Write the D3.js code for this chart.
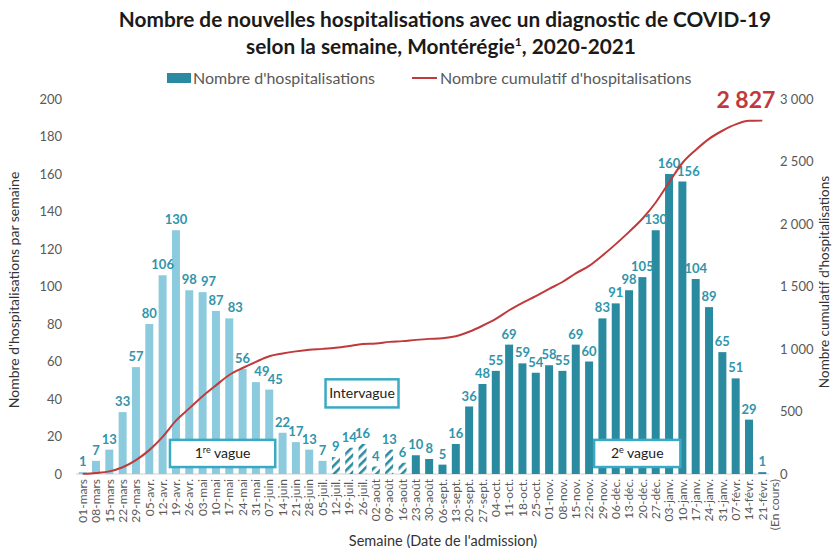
<!DOCTYPE html>
<html>
<head>
<meta charset="utf-8">
<script src="https://cdn.jsdelivr.net/npm/d3@7"></script>
<style>
  body { margin: 0; background: #fff; }
  svg { display: block; font-family: Lato, "Open Sans", sans-serif; }
</style>
</head>
<body>
<svg id="chart"></svg>
<script>
// semaines (date d'admission)
const categories = ["01-mars", "08-mars", "15-mars", "22-mars", "29-mars", "05-avr.", "12-avr.", "19-avr.",
  "26-avr.", "03-mai", "10-mai", "17-mai", "24-mai", "31-mai", "07-juin", "14-juin", "21-juin", "28-juin",
  "05-juil.", "12-juil.", "19-juil.", "26-juil.", "02-août", "09-août", "16-août", "23-août", "30-août",
  "06-sept.", "13-sept.", "20-sept.", "27-sept.", "04-oct.", "11-oct.", "18-oct.", "25-oct.", "01-nov.",
  "08-nov.", "15-nov.", "22-nov.", "29-nov.", "06-déc.", "13-déc.", "20-déc.", "27-déc.", "03-janv.",
  "10-janv.", "17-janv.", "24-janv.", "31-janv.", "07-févr.", "14-févr.", "21-févr."];

const weekly = [1, 7, 13, 33, 57, 80, 106, 130, 98, 97, 87, 83, 56, 49, 45, 22, 17, 13, 7,
  9, 14, 16, 4, 13, 6,
  10, 8, 5, 16, 36, 48, 55, 69, 59, 54, 58, 55, 69, 60, 83, 91, 98, 105, 130, 160, 156, 104, 89, 65, 51, 29, 1];

const cumulative = [1, 8, 21, 54, 111, 191, 297, 427, 525, 622, 709, 792, 848, 897, 942, 964, 981, 994, 1001,
  1010, 1024, 1040, 1044, 1057, 1063,
  1073, 1081, 1086, 1102, 1138, 1186, 1241, 1310, 1369, 1423, 1481, 1536, 1605, 1665, 1748, 1839, 1937, 2042,
  2172, 2332, 2488, 2592, 2681, 2746, 2797, 2826, 2827];

// 1 = 1re vague, i = intervague, 2 = 2e vague
const period = "1111111111111111111iiiiii222222222222222222222222222".split("");

const leftTicks = [0, 20, 40, 60, 80, 100, 120, 140, 160, 180, 200];
const rightTicks = [0, 500, 1000, 1500, 2000, 2500, 3000];

const width = 835, height = 548;
const plotLeft = 76, plotRight = 769, plotTop = 99, plotBottom = 474;

const light = "#8ccbdd", dark = "#2a8ba0", labelCol = "#2f95ab", red = "#c0393b", grey = "#595959";

const svg = d3.select("#chart").attr("width", width).attr("height", height);

const fr = d3.formatLocale({ decimal: ",", thousands: "\u00a0", grouping: [3], currency: ["", " $"] });
const fmt = fr.format(",d");

// scales
const x = d3.scaleBand().domain(categories).range([plotLeft, plotRight]).paddingInner(0.4).paddingOuter(0.2);
const y = d3.scaleLinear().domain([0, 200]).range([plotBottom, plotTop]);
const y2 = d3.scaleLinear().domain([0, 3000]).range([plotBottom, plotTop]);

// hatch pattern for intervague
const defs = svg.append("defs");
defs.append("pattern")
  .attr("id", "hatch")
  .attr("patternUnits", "userSpaceOnUse")
  .attr("width", 6).attr("height", 6)
  .attr("patternTransform", "rotate(45)")
  .append("rect")
  .attr("width", 2.6).attr("height", 6)
  .attr("fill", dark);

// title
const title = svg.append("g").attr("font-weight", "bold").attr("fill", "#1a1a1a")
  .attr("text-anchor", "middle").attr("font-size", 20.8);
title.append("text").attr("x", 445).attr("y", 27)
  .text("Nombre de nouvelles hospitalisations avec un diagnostic de COVID-19");
const t2 = title.append("text").attr("x", 441).attr("y", 54);
t2.append("tspan").text("selon la semaine, Montérégie");
t2.append("tspan").attr("font-size", 12).attr("dy", -8).text("1");
t2.append("tspan").attr("dy", 8).text(", 2020-2021");

// legend
const lg = svg.append("g").attr("font-size", 16).attr("fill", grey);
lg.append("rect").attr("x", 167).attr("y", 73).attr("width", 24).attr("height", 10).attr("fill", dark);
lg.append("text").attr("x", 193).attr("y", 84).text("Nombre d'hospitalisations");
lg.append("line").attr("x1", 412).attr("x2", 437).attr("y1", 78).attr("y2", 78)
  .attr("stroke", red).attr("stroke-width", 2);
lg.append("text").attr("x", 440).attr("y", 84).text("Nombre cumulatif d'hospitalisations");

// axes
const xAxis = svg.append("g")
  .attr("transform", "translate(0," + plotBottom + ")")
  .call(d3.axisBottom(x).tickSize(0).tickPadding(0));
xAxis.select(".domain").attr("stroke", "#d0d0d0").attr("d", "M" + plotLeft + ",0H" + plotRight);
xAxis.selectAll("text")
  .attr("font-family", "Lato, sans-serif")
  .attr("font-size", 12)
  .attr("fill", grey)
  .attr("text-anchor", "end")
  .attr("transform", "rotate(-90)")
  .attr("x", -5).attr("y", 0).attr("dy", "0.35em");
xAxis.selectAll(".tick").filter(d => d === "21-févr.")
  .each(function () {
    d3.select(this).append("text")
      .attr("font-family", "Lato, sans-serif")
      .attr("font-size", 12).attr("fill", grey)
      .attr("text-anchor", "end").attr("transform", "rotate(-90)")
      .attr("x", -5).attr("y", 0).attr("dy", "1.35em")
      .text("(En cours)");
  });

const yAxis = svg.append("g")
  .attr("transform", "translate(" + plotLeft + ",0)")
  .call(d3.axisLeft(y).tickValues(leftTicks).tickSize(0).tickPadding(14));
yAxis.select(".domain").remove();
yAxis.selectAll("text").attr("font-family", "Lato, sans-serif").attr("font-size", 13).attr("fill", grey);

const y2Axis = svg.append("g")
  .attr("transform", "translate(" + plotRight + ",0)")
  .call(d3.axisRight(y2).tickValues(rightTicks).tickFormat(fmt).tickSize(0).tickPadding(11));
y2Axis.select(".domain").remove();
y2Axis.selectAll("text").attr("font-family", "Lato, sans-serif").attr("font-size", 13).attr("fill", grey);

// axis titles
svg.append("text")
  .attr("transform", "translate(19," + 290 + ") rotate(-90)")
  .attr("text-anchor", "middle").attr("font-size", 14).attr("fill", "#333")
  .text("Nombre d'hospitalisations par semaine");
svg.append("text")
  .attr("transform", "translate(829," + 282 + ") rotate(-90)")
  .attr("text-anchor", "middle").attr("font-size", 13.5).attr("fill", "#333")
  .text("Nombre cumulatif d'hospitalisations");
svg.append("text")
  .attr("x", 443).attr("y", 546)
  .attr("text-anchor", "middle").attr("font-size", 14.5).attr("fill", "#333")
  .text("Semaine (Date de l'admission)");

// bars
const rows = categories.map((c, i) => ({
  c, v: weekly[i], cum: cumulative[i], p: period[i],
  prev: i ? weekly[i - 1] : null, next: i < weekly.length - 1 ? weekly[i + 1] : null
}));

svg.append("g").selectAll("rect")
  .data(rows)
  .enter()
  .append("rect")
  .attr("x", d => x(d.c))
  .attr("y", d => y(d.v))
  .attr("width", x.bandwidth())
  .attr("height", d => plotBottom - y(d.v))
  .attr("fill", d => d.p === "1" ? light : d.p === "i" ? "url(#hatch)" : dark);

// annotation boxes
const boxes = [
  { label: ["1", "re", " vague"], x0: x("19-avr.") - 2, x1: x("07-juin") + x.bandwidth() + 2, v0: 18.2, v1: 3.7 },
  { label: ["Intervague"], x0: x("05-juil.") + x.bandwidth() - 1, x1: x("16-août"), v0: 50.5, v1: 35.5 },
  { label: ["2", "e", " vague"], x0: x("22-nov.") + x.bandwidth() + 1, x1: x("10-janv.") + 2, v0: 18.2, v1: 3.7 }
];
const bx = svg.append("g").selectAll("g").data(boxes).enter().append("g");
bx.append("rect")
  .attr("x", d => d.x0).attr("y", d => y(d.v0))
  .attr("width", d => d.x1 - d.x0).attr("height", d => y(d.v1) - y(d.v0))
  .attr("fill", "#fff").attr("stroke", "#3aaac4").attr("stroke-width", 2.5);
bx.append("text")
  .attr("x", d => (d.x0 + d.x1) / 2)
  .attr("y", d => (y(d.v0) + y(d.v1)) / 2 + 5)
  .attr("text-anchor", "middle").attr("font-size", 14).attr("fill", "#222")
  .each(function (d) {
    const t = d3.select(this);
    t.append("tspan").text(d.label[0]);
    if (d.label.length > 1) {
      t.append("tspan").attr("font-size", 9).attr("dy", -5).text(d.label[1]);
      t.append("tspan").attr("dy", 5).text(d.label[2]);
    }
  });

// value labels (nudged right on a falling slope when the previous bar is just a bit taller)
const nudge = d => (d.prev !== null && d.next !== null && d.prev >= d.v && d.prev - d.v < 8 && d.next < d.v && d.v > 20) ? 6 : 0;
svg.append("g").selectAll("text")
  .data(rows)
  .enter()
  .append("text")
  .attr("x", d => x(d.c) + x.bandwidth() / 2 + nudge(d))
  .attr("y", d => y(d.v) - 6)
  .attr("text-anchor", "middle")
  .attr("font-size", 13).attr("font-weight", "bold")
  .attr("fill", labelCol)
  .text(d => d.v);

// cumulative line
const line = d3.line()
  .x(d => x(d.c) + x.bandwidth() / 2)
  .y(d => y2(d.cum))
  .curve(d3.curveMonotoneX);
svg.append("path")
  .datum(rows)
  .attr("d", line)
  .attr("fill", "none").attr("stroke", red).attr("stroke-width", 2);

const last = rows[rows.length - 1];
svg.append("text")
  .attr("x", x(last.c) + x.bandwidth() / 2 + 13)
  .attr("y", y2(last.cum) - 13)
  .attr("text-anchor", "end")
  .attr("font-size", 23).attr("font-weight", "bold").attr("fill", red)
  .text(fmt(last.cum));
</script>
</body>
</html>
